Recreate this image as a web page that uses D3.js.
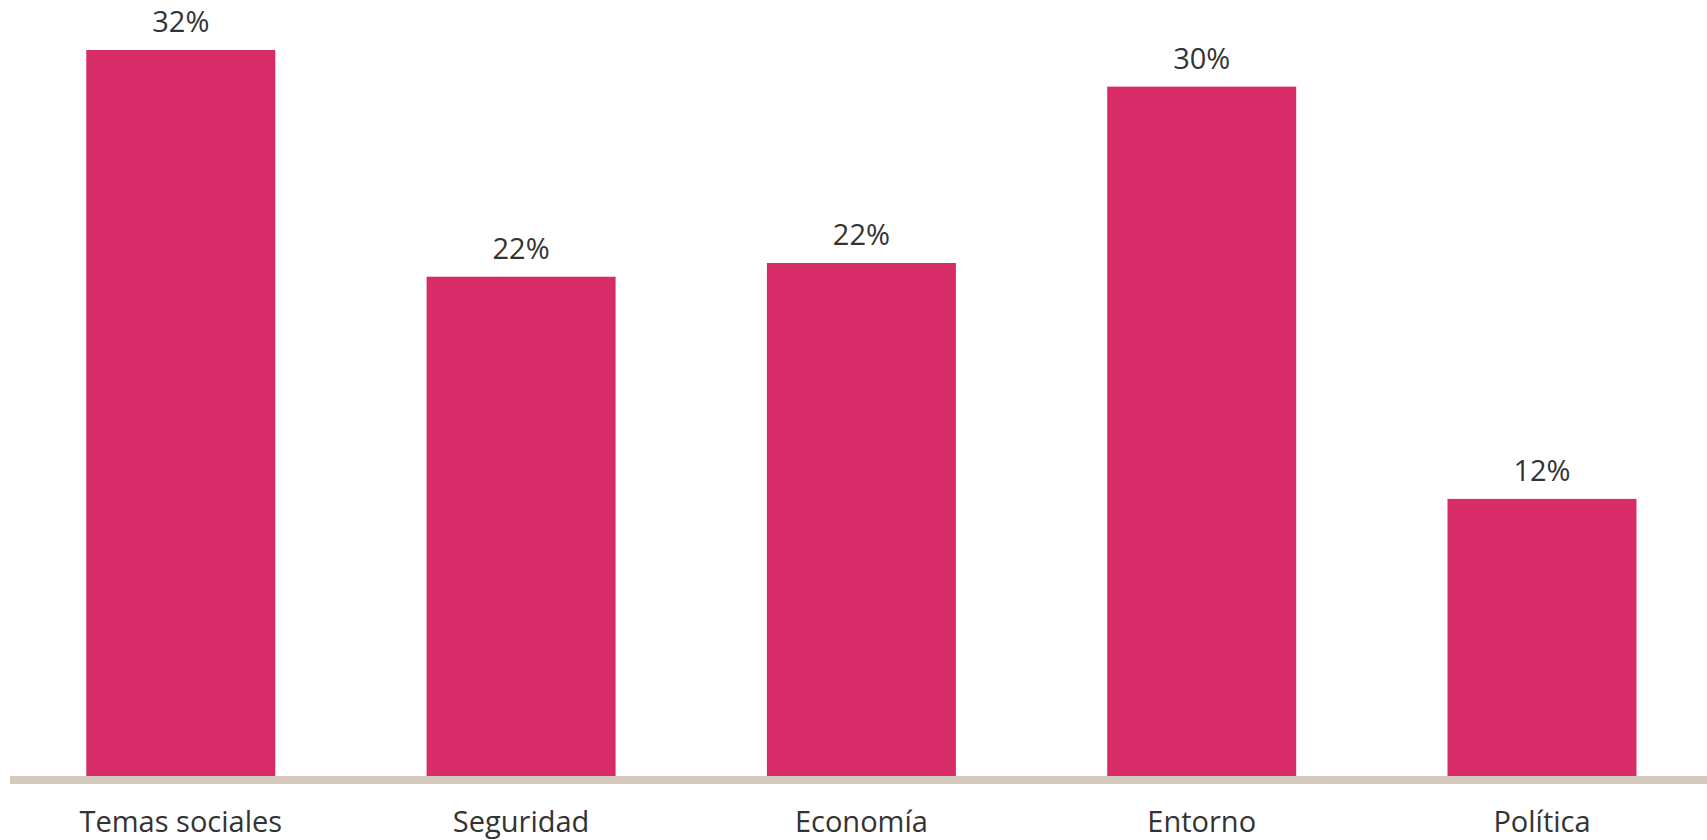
<!DOCTYPE html>
<html>
<head>
<meta charset="utf-8">
<script src="https://cdn.jsdelivr.net/npm/d3@7"></script>
<style>
  html, body { margin: 0; padding: 0; background: #fff; }
  svg { display: block; }
  text { font-family: "Open Sans", sans-serif; fill: #333; }
</style>
</head>
<body>
<div id="chart"></div>
<script>
// categorías y valores (%)
const categories = ['Temas sociales', 'Seguridad', 'Economía', 'Entorno', 'Política'];
const values = [31.7, 21.8, 22.4, 30.1, 12.1];

const width = 1707, height = 840;
const baseline = 776;

const svg = d3.select('#chart').append('svg')
    .attr('width', width)
    .attr('height', height);

// paso ~340, ancho de barra ~189
const x = d3.scaleBand()
    .domain(categories)
    .range([86.3, 1636.5])
    .paddingInner(0.4446)
    .paddingOuter(0);

const y = d3.scaleLinear()
    .domain([0, 31.7])
    .range([baseline, 50]);

const data = categories.map((c, i) => ({ cat: c, val: values[i] }));

// barras
svg.selectAll('.bar')
    .data(data)
    .join('rect')
    .attr('class', 'bar')
    .attr('x', d => x(d.cat))
    .attr('y', d => y(d.val))
    .attr('width', x.bandwidth())
    .attr('height', d => baseline - y(d.val))
    .style('fill', '#d82c69');

// línea base
svg.append('line')
    .attr('x1', 10)
    .attr('x2', width)
    .attr('y1', baseline + 4)
    .attr('y2', baseline + 4)
    .style('stroke', '#d3cabd')
    .style('stroke-width', 8);

// etiquetas de valor
svg.selectAll('.val')
    .data(data)
    .join('text')
    .attr('class', 'val')
    .attr('x', d => x(d.cat) + x.bandwidth() / 2)
    .attr('y', d => y(d.val) - 18)
    .attr('text-anchor', 'middle')
    .style('font-size', '29px')
    .text(d => Math.round(d.val) + '%');

// eje x
const xAxis = svg.append('g')
    .attr('transform', `translate(0,${baseline})`)
    .call(d3.axisBottom(x).tickSize(0).tickPadding(0));
xAxis.select('.domain').remove();
xAxis.selectAll('text')
    .attr('y', 56)
    .attr('dy', 0)
    .style('font-size', '29px')
    .style('font-family', '"Open Sans", sans-serif')
    .style('fill', '#333');
</script>
</body>
</html>
